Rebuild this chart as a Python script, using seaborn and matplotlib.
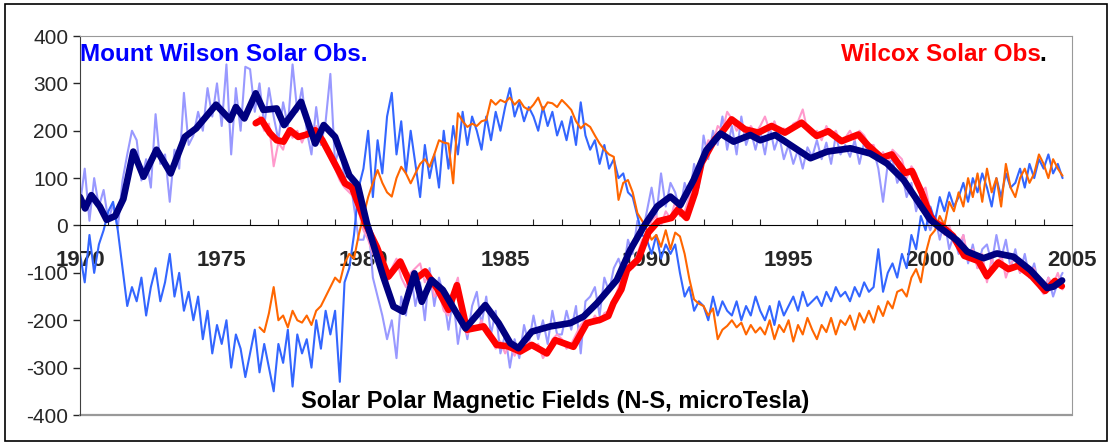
import numpy as np
import pandas as pd
import seaborn as sns
import matplotlib
matplotlib.use("Agg")
import matplotlib.pyplot as plt
from matplotlib.patches import Rectangle

# raw series, 6 samples per year
mw_start = 1970.0
mw_raw = [
    45, 120, 10, 100, 40, 75,          # 1970
    10, 45, -5, 95, 150, 200,          # 1971
    180, 95, 140, 80, 235, 130,        # 1972
    150, 50, 160, 120, 280, 170,       # 1973
    190, 240, 200, 290, 230, 300,      # 1974
    210, 340, 150, 290, 200, 335,      # 1975
    330, 240, 300, 210, 290, 230,      # 1976
    180, 260, 210, 340, 240, 290,      # 1977
    200, 150, 250, 170, 220, 320,      # 1978
    130, 170, 100, 110, 40, -30,       # 1979
    -30, 10, -110, -150, -190, -240,   # 1980
    -200, -280, -150, -190, -100, -170,
    -120, -200, -90, -170, -110, -150,
    -220, -150, -250, -190, -240, -170,
    -140, -210, -150, -230, -180, -270,
    -230, -300, -240, -280, -210, -250,  # 1985
    -190, -240, -200, -250, -180, -230,
    -230, -180, -220, -170, -270, -160,
    -150, -130, -190, -110, -140, -90,
    -70, -100, -30, -60, 10, -20,
    30, 80, 20, 110, 40, 90,           # 1990
    70, 30, 90, 60, 130, 80,
    190, 140, 200, 170, 230, 160,
    210, 150, 230, 170, 200, 160,
    200, 150, 210, 160, 190, 140,
    170, 130, 160, 120, 165, 145,      # 1995
    180, 140, 175, 130, 190, 150,
    170, 145, 180, 130, 175, 150,
    160, 120, 50, 130, 140, 90,
    110, 60, 90, 30, 70, 20,
    -10, 20, -30, 10, -50, -20,        # 2000
    -60, -20, -80, -40, -90, -50,
    -40, -80, -20, -70, -30, -90,
    -50, -100, -60, -110, -80, -130,
    -140, -110, -150, -120, -100,
]
mw_mirror = [
    -60, -120, -20, -100, -40, -10,    # 1970
    30, 50, -10, -90, -170, -130,
    -160, -110, -190, -130, -90, -160,
    -120, -60, -150, -100, -180, -140,
    -200, -150, -240, -180, -270, -210,
    -250, -200, -300, -230, -260, -320,  # 1975
    -270, -220, -310, -250, -300, -350,
    -250, -290, -220, -340, -230, -270,
    -240, -300, -200, -260, -180, -230,
    -180, -330, -120, -90, -20, 80,
    120, 200, 60, 180, 110, 230,       # 1980
    280, 150, 220, 110, 200, 130,
    60, 170, 100, 150, 80, 200,
    120, 210, 150, 240, 170, 230,
    200, 160, 230, 180, 240, 200,
    250, 290, 230, 260, 220, 250,      # 1985
    230, 200, 250, 210, 240, 190,
    220, 180, 230, 170, 260, 190,
    160, 180, 130, 170, 120, 140,
    100, 110, 70, 60, 20, -20,
    -30, -60, -20, -70, -40, -60,      # 1990
    -40, -100, -150, -130, -180, -160,
    -170, -200, -150, -190, -160, -180,
    -190, -160, -200, -170, -190, -150,
    -180, -200, -170, -210, -160, -190,
    -170, -150, -180, -140, -170, -160,  # 1995
    -150, -170, -140, -160, -130, -150,
    -140, -160, -130, -150, -120, -140,
    -130, -50, -140, -100, -80, -110,
    -60, -90, -20, -50, 20, -10,
    40, 10, 60, 30, 70, 40,            # 2000
    60, 90, 50, 100, 70, 110,
    80, 40, 100, 60, 110, 80,
    90, 120, 80, 130, 100, 140,
    120, 150, 110, 130, 100,
]

wso_start = 1976 + 2 / 6
wso_raw = [
    230, 200, 215, 125,                # 1976
    175, 160, 205, 185, 200, 175,
    200, 185, 210, 175, 160, 140,
    120, 95, 80, 70, 60, 30,
    -10, -30, -60, -50, -110, -120,    # 1980
    -90, -70, -110, -130, -100, -90,
    -80, -120, -100, -150, -140, -180,
    -190, -140, -110, -200, -230, -210,
    -220, -200, -230, -240, -260, -245,
    -270, -250, -275, -255, -265, -245,  # 1985
    -260, -250, -280, -265, -240, -230,
    -240, -260, -250, -230, -210, -200,
    -210, -190, -205, -185, -180, -160,
    -130, -100, -80, -90, -60, -30,
    -20, 10, 20, 0, 30, 15,            # 1990
    50, 20, 30, 60, 90, 120,
    150, 180, 175, 210, 200, 240,
    225, 200, 215, 190, 210, 195,
    210, 230, 200, 220, 190, 205,
    195, 215, 220, 245, 200, 190,      # 1995
    200, 180, 210, 190, 200, 175,
    185, 200, 180, 200, 190, 170,
    170, 140, 155, 130, 160, 150,
    140, 100, 125, 110, 70, 80,
    30, 5, 10, -20, 0, -30,            # 2000
    -40, -20, -70, -50, -90, -60,
    -120, -70, -90, -60, -110, -80,
    -70, -100, -80, -110, -90, -130,
    -145, -110, -125, -100, -135,
]
wso_mirror = [
    -215, -225, -185, -130,            # 1976
    -200, -190, -215, -180, -200, -205,
    -190, -210, -180, -170, -150, -130,
    -110, -120, -80, -60, -70, -20,
    20, 60, 90, 117, 90, 70,           # 1980
    61, 100, 124, 110, 89, 110,
    130, 140, 124, 150, 180, 175,
    173, 89, 237, 220, 208, 215,
    210, 220, 223, 265, 255, 265,
    260, 270, 255, 265, 250, 244,      # 1985
    255, 270, 244, 260, 258, 250,
    265, 255, 244, 220, 205, 215,
    208, 190, 173, 160, 150, 145,
    54, 90, 96, 70, 26, 10,
    -9, -30, -20, -45, -10, -50,       # 1990
    -15, -23, -60, -113, -156, -165,
    -170, -190, -175, -240, -220, -212,
    -200, -215, -205, -230, -210, -226,
    -215, -230, -200, -240, -210, -225,
    -200, -245, -210, -230, -195, -220,  # 1995
    -240, -210, -225, -195, -230, -200,
    -210, -190, -220, -185, -205, -180,
    -205, -170, -191, -160, -175, -140,
    -135, -150, -110, -92, -120, -60,
    -22, -10, 20, 0, 50, 30,           # 2000
    70, 40, 100, 60, 110, 50,
    120, 70, 100, 40, 130, 80,
    60, 100, 120, 90, 110, 150,
    130, 100, 140, 120, 105,
]

# smoothed curves (year, value)
mw_smooth_yr = [1970.0, 1970.18, 1970.4, 1970.7, 1970.94, 1971.24, 1971.53, 1971.88, 1972.24, 1972.7,
                1973.2, 1973.7, 1974.1, 1974.8, 1975.3, 1975.5, 1975.8, 1976.2, 1976.47, 1976.94,
                1977.2, 1977.8, 1978.3, 1978.6, 1979.0, 1979.5, 1979.8, 1980.12, 1980.7, 1981.06,
                1981.4, 1981.8, 1982.06, 1982.4, 1982.8, 1983.6, 1984.3, 1984.77, 1985.18, 1985.47,
                1985.94, 1986.59, 1987.3, 1987.77, 1988.24, 1988.94, 1989.41, 1989.88, 1990.36, 1990.83,
                1991.18, 1991.65, 1992.1, 1992.6, 1993.06, 1993.65, 1994.0, 1994.53, 1995.77, 1996.36,
                1997.18, 1997.88, 1998.47, 1999.06, 1999.53, 2000.0, 2000.35, 2000.94, 2001.3, 2001.88,
                2002.35, 2002.94, 2003.53, 2004.12, 2004.35, 2004.65]
mw_smooth = [60, 36, 64, 40, 12, 20, 56, 156, 103, 160,
             110, 187, 205, 255, 223, 250, 226, 279, 244, 247,
             212, 261, 173, 212, 187, 106, 85, 5, -108, -171,
             -182, -101, -161, -115, -136, -217, -168, -206, -248, -259,
             -224, -213, -206, -192, -164, -115, -52, -3, 40, 61,
             43, 96, 159, 194, 177, 191, 180, 191, 142, 156,
             163, 152, 131, 96, 54, 12, -5, -31, -55, -69,
             -59, -66, -94, -132, -129, -116]

wso_smooth_yr = [1976.2, 1976.4, 1976.7, 1976.94, 1977.18, 1977.41, 1977.7, 1978.0, 1978.3, 1978.55,
                 1978.8, 1979.1, 1979.35, 1979.6, 1979.85, 1980.1, 1980.47, 1980.88, 1981.3, 1981.65,
                 1982.18, 1982.59, 1983.0, 1983.3, 1983.65, 1984.24, 1984.7, 1985.1, 1985.53, 1985.94,
                 1986.47, 1986.77, 1987.41, 1987.88, 1988.35, 1988.64, 1988.82, 1989.1, 1989.3, 1989.7,
                 1990.05, 1990.4, 1990.87, 1991.1, 1991.4, 1991.7, 1991.93, 1992.4, 1992.64, 1992.99,
                 1993.46, 1993.93, 1994.4, 1994.87, 1995.46, 1995.99, 1996.4, 1996.87, 1997.46, 1997.82,
                 1998.29, 1998.64, 1999.11, 1999.35, 1999.7, 2000.0, 2000.17, 2000.4, 2000.8, 2001.2,
                 2001.7, 2002.0, 2002.4, 2002.76, 2003.1, 2003.58, 2004.05, 2004.4, 2004.64]
wso_smooth = [216, 223, 195, 180, 177, 201, 187, 192, 201, 180,
              152, 118, 89, 80, 40, 0, -45, -108, -76, -122,
              -97, -132, -178, -126, -220, -213, -252, -255, -266, -252,
              -270, -242, -256, -206, -199, -191, -164, -135, -94, -71,
              -15, 9, 16, 34, 16, 69, 132, 182, 196, 224,
              203, 196, 210, 196, 217, 189, 199, 178, 192, 168,
              143, 150, 111, 115, 69, 20, 6, -1, -22, -64,
              -75, -107, -78, -92, -85, -107, -138, -117, -128]


def raw_frame(start, vals):
    return pd.DataFrame({"year": start + np.arange(len(vals)) / 6, "field": vals})


sns.set_style("white")
plt.rcParams["font.family"] = ["Liberation Sans", "DejaVu Sans"]
plt.rcParams["axes.unicode_minus"] = False

fig = plt.figure(figsize=(11.1, 4.44), dpi=100)
ax = fig.add_axes([80 / 1110, 29 / 444, 992 / 1110, 379 / 444])

series = [
    (raw_frame(mw_start, mw_raw), "#9999ff", 1.5),
    (raw_frame(mw_start, mw_mirror), "#3366ff", 1.5),
    (raw_frame(wso_start, wso_raw), "#ff99cc", 1.5),
    (raw_frame(wso_start, wso_mirror), "#ff6600", 1.5),
    (pd.DataFrame({"year": wso_smooth_yr, "field": wso_smooth}), "#ff0000", 4.8),
    (pd.DataFrame({"year": mw_smooth_yr, "field": mw_smooth}), "#000080", 4.8),
]
for df, col, lw in series:
    sns.lineplot(data=df, x="year", y="field", ax=ax, color=col, lw=lw,
                 estimator=None, sort=False)

ax.set_xlim(1970, 2005)
ax.set_ylim(-400, 400)
ax.set_xlabel("")
ax.set_ylabel("")

# x axis through zero, grey frame around plot area
ax.spines["bottom"].set_position(("data", 0))
ax.spines["bottom"].set_color("black")
ax.spines["left"].set_color("#404040")
for s in ["top", "right"]:
    ax.spines[s].set_color("#999999")
ax.axhline(-400, color="#999999", lw=1.6, clip_on=False)

ax.set_xticks(range(1970, 2006, 5))
ax.set_xticks(range(1970, 2006), minor=True)
ax.set_yticks(range(-400, 401, 100))
ax.tick_params(axis="x", which="major", direction="inout", length=9, width=1,
               pad=13, labelsize=16)
ax.tick_params(axis="x", which="minor", direction="in", length=4.5, width=0.8, bottom=True)
ax.tick_params(axis="y", direction="out", length=5, width=1, left=True, labelsize=15)
for t in ax.get_xticklabels():
    t.set_fontweight("bold")

ax.text(0.0, 0.95, "Mount Wilson Solar Obs.", transform=ax.transAxes, color="#0000ff",
        fontsize=17.5, fontweight="bold", ha="left", va="center")
ax.text(0.974, 0.95, ".", transform=ax.transAxes, color="black",
        fontsize=17.5, fontweight="bold", ha="right", va="center")
ax.text(0.969, 0.95, "Wilcox Solar Obs", transform=ax.transAxes, color="#ff0000",
        fontsize=17.5, fontweight="bold", ha="right", va="center")
ax.text(0.479, 0.035, "Solar Polar Magnetic Fields (N-S, microTesla)", transform=ax.transAxes,
        color="black", fontsize=17, fontweight="bold", ha="center", va="center")

fig.patches.append(Rectangle((5 / 1110, 3 / 444), 1102 / 1110, 437 / 444, transform=fig.transFigure,
                             fill=False, edgecolor="black", lw=1.2))

fig.savefig("out.png", dpi=100)
